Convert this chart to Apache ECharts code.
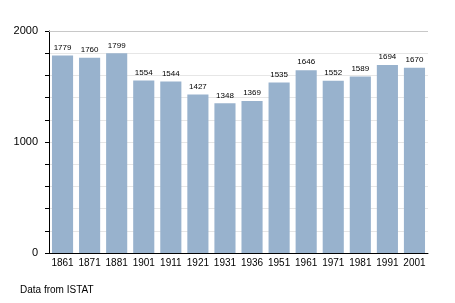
<!DOCTYPE html>
<html><head><meta charset="utf-8">
<script src="https://cdn.jsdelivr.net/npm/echarts@6/dist/echarts.min.js"></script>
<style>html,body{margin:0;padding:0;background:#fff}#c{width:455px;height:303px}</style>
</head><body><div id="c"></div>
<script>
const years = ['1861','1871','1881','1901','1911','1921','1931','1936','1951','1961','1971','1981','1991','2001'];
const population = [1779,1760,1799,1554,1544,1427,1348,1369,1535,1646,1552,1589,1694,1670];
const yTicks = [0,1000,2000];
const sourceNote = 'Data from ISTAT';

const chart = echarts.init(document.getElementById('c'));
chart.setOption({
  animation:false,
  backgroundColor:'#fff',
  textStyle:{fontFamily:'Liberation Sans, Arial, sans-serif'},
  grid:{left:49,right:27,top:31,bottom:50},
  graphic:[{type:'text',left:20,top:285,style:{text:sourceNote,fontSize:10,fill:'#000',fontFamily:'Liberation Sans, Arial, sans-serif'}}],
  xAxis:{type:'category',data:years,
    axisLine:{lineStyle:{color:'#000',width:1}},
    axisTick:{show:false},
    axisLabel:{color:'#000',fontSize:10,margin:5,interval:0}},
  yAxis:{type:'value',min:0,max:2000,interval:200,
    axisLine:{show:true,lineStyle:{color:'#000',width:1}},
    axisTick:{show:true,length:4,lineStyle:{color:'#000'}},
    splitLine:{lineStyle:{color:'#e6e6e6',width:1}},
    axisLabel:{color:'#000',fontSize:11,margin:11,
      formatter:v=>yTicks.includes(v)?String(v):''}},
  series:[{type:'bar',data:population,barCategoryGap:'22%',
    itemStyle:{color:'#98b2cd'},
    label:{show:true,position:'top',distance:4,fontSize:8,color:'#000'},
    markLine:{silent:true,symbol:'none',label:{show:false},
      lineStyle:{color:'#c8c8c8',type:'solid',width:1},
      data:[{yAxis:2000}]}}]
});
</script></body></html>
